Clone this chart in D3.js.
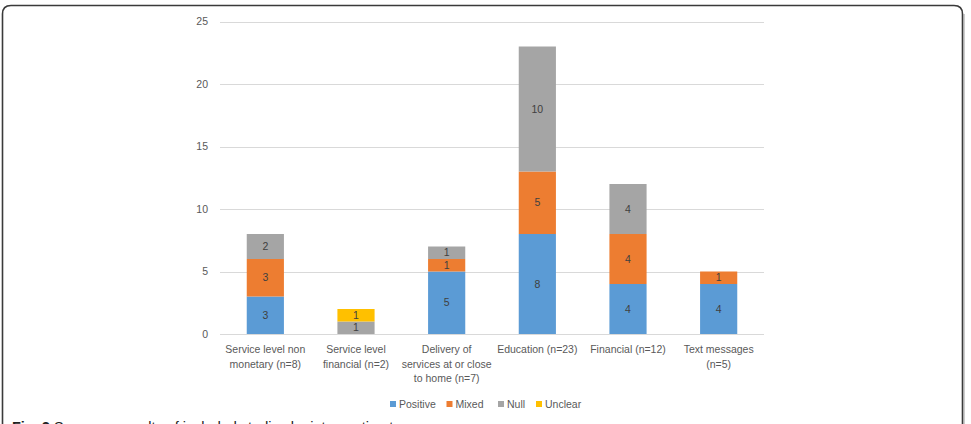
<!DOCTYPE html>
<html>
<head>
<meta charset="utf-8">
<script src="https://cdn.jsdelivr.net/npm/d3@7"></script>
<style>
  body { margin: 0; background: #fff; }
  svg { display: block; font-family: "Liberation Sans", Arial, sans-serif; }
</style>
</head>
<body>
<div id="chart"></div>
<script>
// data
const categories = [
  ["Service level non", "monetary (n=8)"],
  ["Service level", "financial (n=2)"],
  ["Delivery of", "services at or close", "to home (n=7)"],
  ["Education (n=23)"],
  ["Financial (n=12)"],
  ["Text messages", "(n=5)"]
];
const positive = [3, 0, 5, 8, 4, 4];
const mixed = [3, 0, 1, 5, 4, 1];
const nullRes = [2, 1, 1, 10, 4, 0];
const unclear = [0, 1, 0, 0, 0, 0];
const seriesNames = ["Positive", "Mixed", "Null", "Unclear"];
const colors = ["#5B9BD5", "#ED7D31", "#A5A5A5", "#FFC000"];
const yTicks = [0, 5, 10, 15, 20, 25];

const width = 971, height = 424;
const svg = d3.select("#chart").append("svg")
  .attr("width", width)
  .attr("height", height);

// frame
svg.append("path")
  .attr("d", "M2.5,440 L2.5,14 Q2.5,5.5 11,5.5 L954,5.5 Q962.5,5.5 962.5,14 L962.5,440")
  .attr("fill", "none")
  .attr("stroke", "#3a3a3a")
  .attr("stroke-width", 1.6);
svg.append("line")
  .attr("x1", 964).attr("x2", 964).attr("y1", 14).attr("y2", 440)
  .attr("stroke", "#999").attr("stroke-width", 1);

const rows = categories.map((c, i) => ({
  idx: i,
  Positive: positive[i], Mixed: mixed[i], Null: nullRes[i], Unclear: unclear[i]
}));

const x = d3.scaleBand()
  .domain(d3.range(categories.length))
  .range([220, 764])
  .paddingInner(0.59)
  .paddingOuter(0.295);

const y = d3.scaleLinear()
  .domain([0, 25])
  .range([334, 21.5]);

// gridlines
svg.append("g")
  .selectAll("line")
  .data(yTicks)
  .enter()
  .append("line")
  .attr("x1", 220).attr("x2", 764)
  .attr("y1", d => Math.round(y(d)) + 0.5)
  .attr("y2", d => Math.round(y(d)) + 0.5)
  .attr("stroke", "#d9d9d9")
  .attr("stroke-width", 1);

// y tick labels
svg.append("g")
  .selectAll("text")
  .data(yTicks)
  .enter()
  .append("text")
  .attr("x", 208)
  .attr("y", d => y(d))
  .attr("dy", "0.35em")
  .attr("text-anchor", "end")
  .style("font-size", "10.5px")
  .style("fill", "#595959")
  .text(d => d);

// stacked bars
const stacked = d3.stack().keys(seriesNames)(rows);
const layers = svg.append("g")
  .selectAll("g")
  .data(stacked)
  .enter()
  .append("g")
  .attr("fill", (d, i) => colors[i]);

layers.selectAll("rect")
  .data(d => d.filter(s => s[1] - s[0] > 0))
  .enter()
  .append("rect")
  .attr("x", d => x(d.data.idx))
  .attr("width", x.bandwidth())
  .attr("y", d => y(d[1]))
  .attr("height", d => y(d[0]) - y(d[1]));

layers.selectAll("text")
  .data(d => d.filter(s => s[1] - s[0] > 0))
  .enter()
  .append("text")
  .attr("x", d => x(d.data.idx) + x.bandwidth() / 2)
  .attr("y", d => (y(d[0]) + y(d[1])) / 2)
  .attr("dy", "0.35em")
  .attr("text-anchor", "middle")
  .style("font-size", "10.5px")
  .style("fill", "#404040")
  .text(d => d[1] - d[0]);

// category labels
const catG = svg.append("g")
  .selectAll("text")
  .data(categories)
  .enter()
  .append("text")
  .attr("text-anchor", "middle")
  .style("font-size", "10.5px")
  .style("fill", "#595959");
catG.selectAll("tspan")
  .data((d, i) => d.map(line => ({ line, i })))
  .enter()
  .append("tspan")
  .attr("x", d => x(d.i) + x.bandwidth() / 2)
  .attr("y", (d, j) => 353 + j * 14.7)
  .text(d => d.line);

// legend
const legendX = [390, 446.5, 498, 536];
const legend = svg.append("g")
  .selectAll("g")
  .data(seriesNames)
  .enter()
  .append("g")
  .attr("transform", (d, i) => `translate(${legendX[i]},404)`);
legend.append("rect")
  .attr("x", 0).attr("y", -3)
  .attr("width", 6).attr("height", 6)
  .attr("fill", (d, i) => colors[i]);
legend.append("text")
  .attr("x", 9)
  .attr("dy", "0.35em")
  .style("font-size", "10.5px")
  .style("fill", "#595959")
  .text(d => d);

// caption (cut off at the bottom edge, as in the source figure)
const cap = svg.append("text")
  .attr("x", 12)
  .attr("y", 432)
  .style("font-size", "14.5px")
  .style("fill", "#222");
cap.append("tspan").style("font-weight", "bold").text("Fig. 2");
cap.append("tspan").text(" Summary results of included studies by intervention type");
</script>
</body>
</html>
